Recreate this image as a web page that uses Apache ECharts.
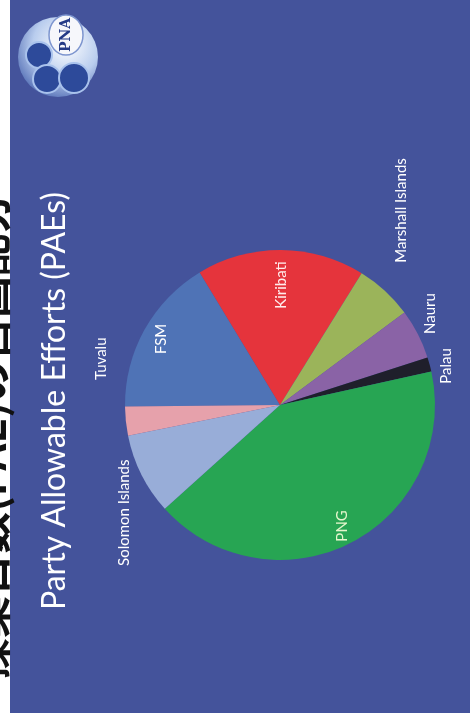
<!DOCTYPE html>
<html>
<head>
<meta charset="utf-8">
<style>
  html, body { margin: 0; padding: 0; background: #ffffff; }
  #chart { width: 472px; height: 728px; }
</style>
<script src="https://cdn.jsdelivr.net/npm/echarts@6/dist/echarts.min.js"></script>
</head>
<body>
<div id="chart"></div>
<script>
// ---- data (share of Party Allowable Efforts, %) ----
var categories = ['FSM', 'Kiribati', 'Marshall Islands', 'Nauru', 'Palau', 'PNG', 'Solomon Islands', 'Tuvalu'];
var values     = [16.5, 17.5, 6.0, 5.2, 1.5, 41.8, 8.5, 3.0];
var insideLabels = ['FSM', 'Kiribati', 'PNG'];
var titleText = 'Party Allowable Efforts (PAEs)';
var sideText = '操業日数(PAE)の自国配分';

// ---- styles ----
var colors = ['#4f73b6', '#e5343c', '#9bb45a', '#8a63a6', '#1f1f2b', '#27a553', '#98add8', '#e6a1ab'];
var FONT = 'Lato, "Open Sans", sans-serif';
var insideColor = { 'FSM': '#ffffff', 'Kiribati': '#ffecec', 'PNG': '#e4f6cc' };
// small label nudges in screen px [right, down] to mimic the slide's label placement
var labelNudge = {
  'Marshall Islands': [-3, -12], 'Nauru': [-11, 10], 'Palau': [-9, 25],
  'Tuvalu': [1, -86], 'Solomon Islands': [6, -25], 'Kiribati': [0, 16]
};
// labels are rotated 90deg, so dx/dy act in the label's rotated frame
function nudge(params) {
  var n = labelNudge[categories[params.dataIndex]];
  return n ? { dx: -n[1], dy: n[0] } : {};
}

var mainData = categories.map(function (c, i) {
  var isIn = insideLabels.indexOf(c) >= 0;
  return { name: c, value: values[i], itemStyle: { color: colors[i] }, label: { show: !isIn } };
});
var labelData = categories.map(function (c, i) {
  var isIn = insideLabels.indexOf(c) >= 0;
  return { name: c, value: values[i], itemStyle: { color: 'rgba(0,0,0,0)' },
           label: { show: isIn, color: insideColor[c] || '#fff' } };
});

var chart = echarts.init(document.getElementById('chart'), null, { renderer: 'canvas' });
chart.setOption({
  backgroundColor: '#ffffff',
  animation: false,
  graphic: [
    { type: 'rect', z: 1, shape: { x: 10, y: 0, width: 460, height: 713 },
      style: { fill: '#44539b' } },
    // heading of the page, cut off at the left edge of the photo
    { type: 'text', z: 2, x: -10, y: 436, rotation: Math.PI / 2,
      style: { text: sideText, fill: '#111', font: 'bold 42px "Noto Sans CJK JP", sans-serif',
               textAlign: 'center', textVerticalAlign: 'middle' } },
    { type: 'text', z: 3, x: 55, y: 401, rotation: Math.PI / 2,
      style: { text: titleText, fill: '#ffffff', font: '32px ' + FONT,
               textAlign: 'center', textVerticalAlign: 'middle' } },
    // PNA logo
    { type: 'circle', z: 3, shape: { cx: 58, cy: 57, r: 40 },
      style: { fill: new echarts.graphic.RadialGradient(0.6, 0.35, 0.75, [
        { offset: 0, color: '#ffffff' }, { offset: 0.55, color: '#b9cdee' }, { offset: 1, color: '#4763ae' }]) } },
    { type: 'ellipse', z: 3, shape: { cx: 66, cy: 35, rx: 17, ry: 20 },
      style: { fill: '#f6f7fb', stroke: '#7d95cf', lineWidth: 1.5 } },
    { type: 'text', z: 4, x: 66, y: 35, rotation: Math.PI / 2,
      style: { text: 'PNA', fill: '#243a86', font: 'bold 14px "DejaVu Serif", serif',
               textAlign: 'center', textVerticalAlign: 'middle' } },
    { type: 'circle', z: 3, shape: { cx: 39, cy: 55, r: 13 },
      style: { fill: '#2d4a9a', stroke: '#a9c2ec', lineWidth: 2 } },
    { type: 'circle', z: 3, shape: { cx: 47, cy: 79, r: 14 },
      style: { fill: '#2d4a9a', stroke: '#a9c2ec', lineWidth: 2 } },
    { type: 'circle', z: 3, shape: { cx: 74, cy: 78, r: 15 },
      style: { fill: '#2d4a9a', stroke: '#a9c2ec', lineWidth: 2 } }
  ],
  series: [
    {
      type: 'pie',
      z: 5,
      center: [280, 405],
      radius: [0, 155],
      startAngle: 180.6,
      clockwise: true,
      avoidLabelOverlap: false,
      silent: true,
      data: mainData,
      label: {
        position: 'outside', rotate: 90, color: '#ffffff',
        fontFamily: FONT, fontSize: 15, distanceToLabelLine: 4
      },
      labelLine: { show: false, length: 22, length2: 0 },
      labelLayout: nudge
    },
    {
      type: 'pie',
      z: 6,
      center: [280, 405],
      radius: [108, 158],
      startAngle: 180.6,
      clockwise: true,
      silent: true,
      avoidLabelOverlap: false,
      data: labelData,
      label: { position: 'inside', rotate: 90, fontFamily: FONT, fontSize: 15 },
      labelLine: { show: false },
      labelLayout: nudge
    }
  ]
});
</script>
</body>
</html>
